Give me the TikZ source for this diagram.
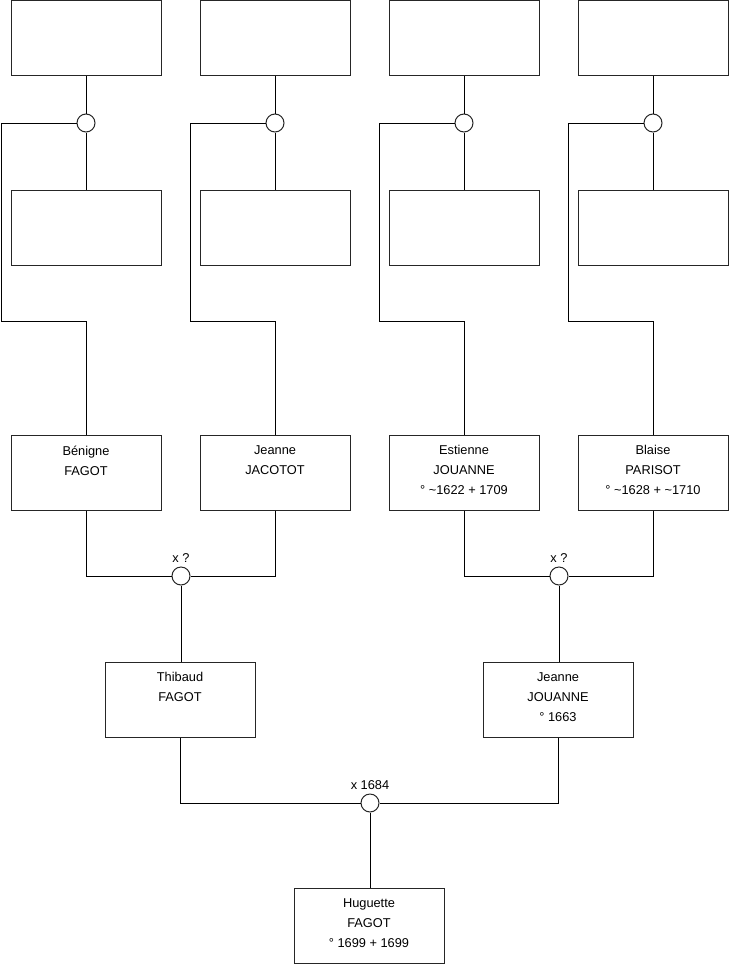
\documentclass[tikz,border=0pt]{standalone}
\usepackage{fontspec}
\setmainfont{Liberation Sans}
\begin{document}
\begin{tikzpicture}[x=0.75pt,y=-0.75pt,
  person/.style={draw=black!85,line width=0.75pt,rectangle,minimum width=112.5pt,minimum height=56.25pt,inner sep=0pt,fill=white},
  union/.style={draw=black!85,line width=0.75pt,circle,minimum size=13.5pt,inner sep=0pt,fill=white},
  link/.style={draw=black,line width=0.75pt},
  txt/.style={anchor=north,align=center,inner sep=0pt,yshift=-8.2pt,font=\fontsize{9.6}{15}\selectfont},
  lbl/.style={anchor=south,inner sep=0pt,yshift=3pt,font=\fontsize{9.6}{11}\selectfont}]
\useasboundingbox (0,0) rectangle (740,975);
% top row
\foreach \n/\cx/\xl in {a/86/1,b/275/190,c/464/379,d/653/568}{
  \node[person] (T\n) at (\cx,38) {};
  \node[person] (M\n) at (\cx,227.5) {};
  \node[union] (C\n) at (\cx,123) {};
  \coordinate (K\n) at (\xl,321);
}
% row 3
\node[person,label={[txt]north:Bénigne\\FAGOT}] (Pa) at (86,472.5) {};
\node[person,label={[txt]north:Jeanne\\JACOTOT}] (Pb) at (275,472.5) {};
\node[person,label={[txt]north:Estienne\\JOUANNE\\° \textasciitilde1622 + 1709}] (Pc) at (464,472.5) {};
\node[person,label={[txt]north:Blaise\\PARISOT\\° \textasciitilde1628 + \textasciitilde1710}] (Pd) at (653,472.5) {};
\foreach \n in {a,b,c,d}{
  \draw[link] (T\n.south) -- (C\n.north);
  \draw[link] (C\n.south) -- (M\n.north);
  \draw[link] (C\n.west) -| (K\n) -| (P\n.north);
}
% marriages row 3
\node[union,label={[lbl]north:x ?}] (U1) at (181,576) {};
\node[union,label={[lbl]north:x ?}] (U2) at (559,576) {};
\draw[link] (Pa.south) |- (U1.west);
\draw[link] (Pb.south) |- (U1.east);
\draw[link] (Pc.south) |- (U2.west);
\draw[link] (Pd.south) |- (U2.east);
% row 4
\node[person,label={[txt]north:Thibaud\\FAGOT}] (Pt) at (180,699.5) {};
\node[person,label={[txt]north:Jeanne\\JOUANNE\\° 1663}] (Pj) at (558,699.5) {};
\draw[link] (U1.south) -- (U1.south |- Pt.north);
\draw[link] (U2.south) -- (U2.south |- Pj.north);
% final marriage
\node[union,label={[lbl]north:x 1684}] (U3) at (370,803) {};
\draw[link] (Pt.south) |- (U3.west);
\draw[link] (Pj.south) |- (U3.east);
\node[person,label={[txt]north:Huguette\\FAGOT\\° 1699 + 1699}] (Ph) at (369,925.5) {};
\draw[link] (U3.south) -- (U3.south |- Ph.north);
\end{tikzpicture}
\end{document}
